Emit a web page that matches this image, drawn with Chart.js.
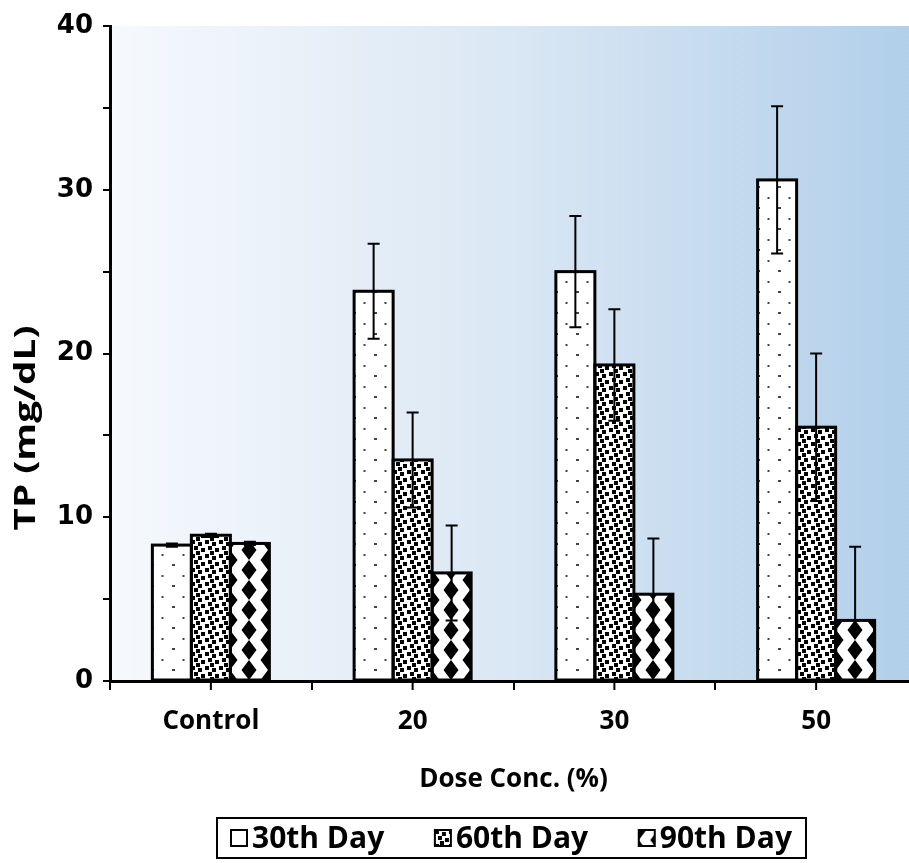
<!DOCTYPE html>
<html>
<head>
<meta charset="utf-8">
<script src="https://cdn.jsdelivr.net/npm/chart.js@4.4.1/dist/chart.umd.min.js"></script>
<style>
  html, body { margin: 0; padding: 0; background: #fff; overflow: hidden; }
  #wrap { width: 920px; height: 863px; }
</style>
</head>
<body>
<div id="wrap"><canvas id="chart" width="920" height="863"></canvas></div>
<script>
// Data
const categories = ['Control', '20', '30', '50'];
const seriesNames = ['30th Day', '60th Day', '90th Day'];
const day30 = [8.3, 23.8, 25.0, 30.6];
const day60 = [8.9, 13.5, 19.3, 15.5];
const day90 = [8.4, 6.6, 5.3, 3.7];
const err30 = [0.1, 2.9, 3.4, 4.5];
const err60 = [0.1, 2.9, 3.4, 4.5];
const err90 = [0.1, 2.9, 3.4, 4.5];
const yTicks = [0, 10, 20, 30, 40];

const labelFont = 'Open Sans';

// Fill patterns like the Excel ones
function makePattern(kind) {
  const c = document.createElement('canvas');
  let g;
  if (kind === 'dots') {
    c.width = 21; c.height = 21;
    g = c.getContext('2d');
    g.fillStyle = '#fff'; g.fillRect(0, 0, 21, 21);
    g.fillStyle = '#444';
    g.fillRect(9.5, 0, 2, 2);
    g.fillRect(0, 10, 2, 2);
    g.fillRect(20, 10, 1, 2);
  } else if (kind === 'confetti') {
    c.width = 14; c.height = 14;
    g = c.getContext('2d');
    g.fillStyle = '#fff'; g.fillRect(0, 0, 14, 14);
    g.fillStyle = '#000';
    [[0, 0], [7, 2], [3, 6], [10, 8], [5, 11]].forEach(p => {
      for (let dx = 0; dx < 4; dx++) for (let dy = 0; dy < 4; dy++) {
        g.fillRect((p[0] + dx) % 14, (p[1] + dy) % 14, 1, 1);
      }
    });
  } else {
    c.width = 38; c.height = 20;
    g = c.getContext('2d');
    g.fillStyle = '#fff'; g.fillRect(0, 0, 38, 20);
    g.fillStyle = '#000';
    const diamond = (cx, cy) => {
      g.beginPath();
      g.moveTo(cx, cy - 10); g.lineTo(cx + 7.5, cy); g.lineTo(cx, cy + 10); g.lineTo(cx - 7.5, cy);
      g.closePath(); g.fill();
    };
    diamond(19, 10);
    [[0, 0], [38, 0], [0, 20], [38, 20]].forEach(p => diamond(p[0], p[1]));
  }
  return g.createPattern(c, 'repeat');
}

const fills = [makePattern('dots'), makePattern('confetti'), makePattern('diamonds')];
const errors = [err30, err60, err90];

// Light-to-blue gradient behind the plot
const bgPlugin = {
  id: 'bg',
  beforeDraw(chart) {
    const { ctx, chartArea: a } = chart;
    const grad = ctx.createLinearGradient(a.left, 0, a.right, 0);
    grad.addColorStop(0, '#f6f9fd');
    grad.addColorStop(0.5, '#dae7f4');
    grad.addColorStop(1, '#b1cfea');
    ctx.save();
    ctx.fillStyle = grad;
    ctx.fillRect(a.left, a.top, a.right - a.left, a.bottom - a.top);
    ctx.restore();
  }
};

// Refill bars with the pattern lined up on each bar, outline them, add error bars
const barExtras = {
  id: 'barExtras',
  afterDatasetsDraw(chart) {
    const { ctx } = chart;
    const yScale = chart.scales.y;
    ctx.save();
    ctx.strokeStyle = '#000';
    chart.data.datasets.forEach((ds, di) => {
      const meta = chart.getDatasetMeta(di);
      meta.data.forEach(bar => {
        const left = bar.x - bar.width / 2;
        const pat = fills[di];
        pat.setTransform(new DOMMatrix().translate(Math.round(left), Math.round(bar.base)));
        ctx.fillStyle = pat;
        ctx.fillRect(left, bar.y, bar.width, bar.base - bar.y);
        pat.setTransform(new DOMMatrix());
      });
    });
    chart.data.datasets.forEach((ds, di) => {
      const meta = chart.getDatasetMeta(di);
      meta.data.forEach(bar => {
        ctx.lineWidth = 3;
        ctx.strokeRect(bar.x - bar.width / 2, bar.y, bar.width, bar.base - bar.y);
      });
    });
    chart.data.datasets.forEach((ds, di) => {
      const meta = chart.getDatasetMeta(di);
      meta.data.forEach((bar, i) => {
        const v = ds.data[i], e = errors[di][i];
        const yTop = yScale.getPixelForValue(v + e);
        ctx.lineWidth = 2;
        ctx.beginPath();
        ctx.moveTo(bar.x - 6, yTop); ctx.lineTo(bar.x + 6, yTop);
        if (v - e >= 0) {
          const yBot = yScale.getPixelForValue(v - e);
          ctx.moveTo(bar.x, yTop); ctx.lineTo(bar.x, yBot);
          ctx.moveTo(bar.x - 6, yBot); ctx.lineTo(bar.x + 6, yBot);
        } else {
          ctx.moveTo(bar.x, yTop); ctx.lineTo(bar.x, bar.y);
        }
        ctx.stroke();
      });
    });
    ctx.restore();
  }
};

// Extra ticks under category centres, y title, boxed legend
const decor = {
  id: 'decor',
  afterDraw(chart) {
    const { ctx, chartArea: a } = chart;
    const xs = chart.scales.x;
    ctx.save();
    ctx.strokeStyle = '#000';
    ctx.lineWidth = 2;
    categories.forEach((c, i) => {
      const x = xs.getPixelForTick(i);
      ctx.beginPath(); ctx.moveTo(x, a.bottom); ctx.lineTo(x, a.bottom + 9); ctx.stroke();
    });

    // y axis title, stretched along its length like the original
    ctx.fillStyle = '#000';
    ctx.font = 'bold 29px "' + labelFont + '"';
    ctx.textAlign = 'center';
    ctx.textBaseline = 'middle';
    const yTitle = 'TP (mg/dL)';
    const tw = ctx.measureText(yTitle).width;
    ctx.translate(27, 428);
    ctx.rotate(-Math.PI / 2);
    ctx.scale(205 / tw, 1);
    ctx.fillText(yTitle, 0, 0);
    ctx.setTransform(1, 0, 0, 1, 0, 0);

    // legend
    ctx.font = 'bold 30px "' + labelFont + '"';
    const icon = 16, gapIcon = 5;
    const cy = 838;
    const boxL = 217, boxR = 806;
    const itemW = seriesNames.map(s => icon + gapIcon + ctx.measureText(s).width);
    const gap = (boxR - boxL - 28 - itemW.reduce((s, w) => s + w, 0)) / (seriesNames.length - 1);
    ctx.lineWidth = 2;
    ctx.strokeRect(boxL, cy - 20, boxR - boxL, 40);
    ctx.textAlign = 'left';
    let x = boxL + 14;
    seriesNames.forEach((s, i) => {
      const pat = fills[i];
      pat.setTransform(new DOMMatrix().translate(x, cy - icon / 2));
      ctx.fillStyle = i === 0 ? '#fff' : pat;
      ctx.fillRect(x, cy - icon / 2, icon, icon);
      pat.setTransform(new DOMMatrix());
      ctx.strokeRect(x, cy - icon / 2, icon, icon);
      ctx.fillStyle = '#000';
      ctx.fillText(s, x + icon + gapIcon, cy + 1);
      x += itemW[i] + gap;
    });
    ctx.restore();
  }
};

new Chart(document.getElementById('chart'), {
  type: 'bar',
  data: {
    labels: categories,
    datasets: [day30, day60, day90].map((d, i) => ({
      label: seriesNames[i],
      data: d,
      backgroundColor: fills[i],
      borderWidth: 0,
      barPercentage: 1,
      categoryPercentage: 0.58
    }))
  },
  options: {
    responsive: false,
    animation: false,
    layout: { padding: { top: 26, right: 3, left: 0, bottom: 0 } },
    plugins: {
      legend: { display: false },
      tooltip: { enabled: false }
    },
    scales: {
      x: {
        offset: true,
        grid: { offset: true, drawOnChartArea: false, drawTicks: true, tickLength: 9, color: '#000', lineWidth: 2 },
        border: { display: true, color: '#000', width: 3 },
        ticks: { color: '#000', padding: 16, font: { family: labelFont, weight: 'bold', size: 26 } },
        title: { display: true, text: 'Dose Conc. (%)', color: '#000', padding: { bottom: 68 }, font: { family: labelFont, weight: 'bold', size: 26 } },
        afterFit: s => { s.height = 182; }
      },
      y: {
        min: 0, max: 40,
        grid: { drawOnChartArea: false, drawTicks: true, tickLength: 7, color: '#000', lineWidth: 2 },
        border: { display: true, color: '#000', width: 3 },
        ticks: {
          stepSize: 5,
          color: '#000',
          padding: 10,
          font: { family: 'DejaVu Sans', weight: 'bold', size: 26 },
          callback: v => yTicks.includes(v) ? v : ''
        },
        afterFit: s => { s.width = 110; }
      }
    }
  },
  plugins: [bgPlugin, barExtras, decor]
});
</script>
</body>
</html>
